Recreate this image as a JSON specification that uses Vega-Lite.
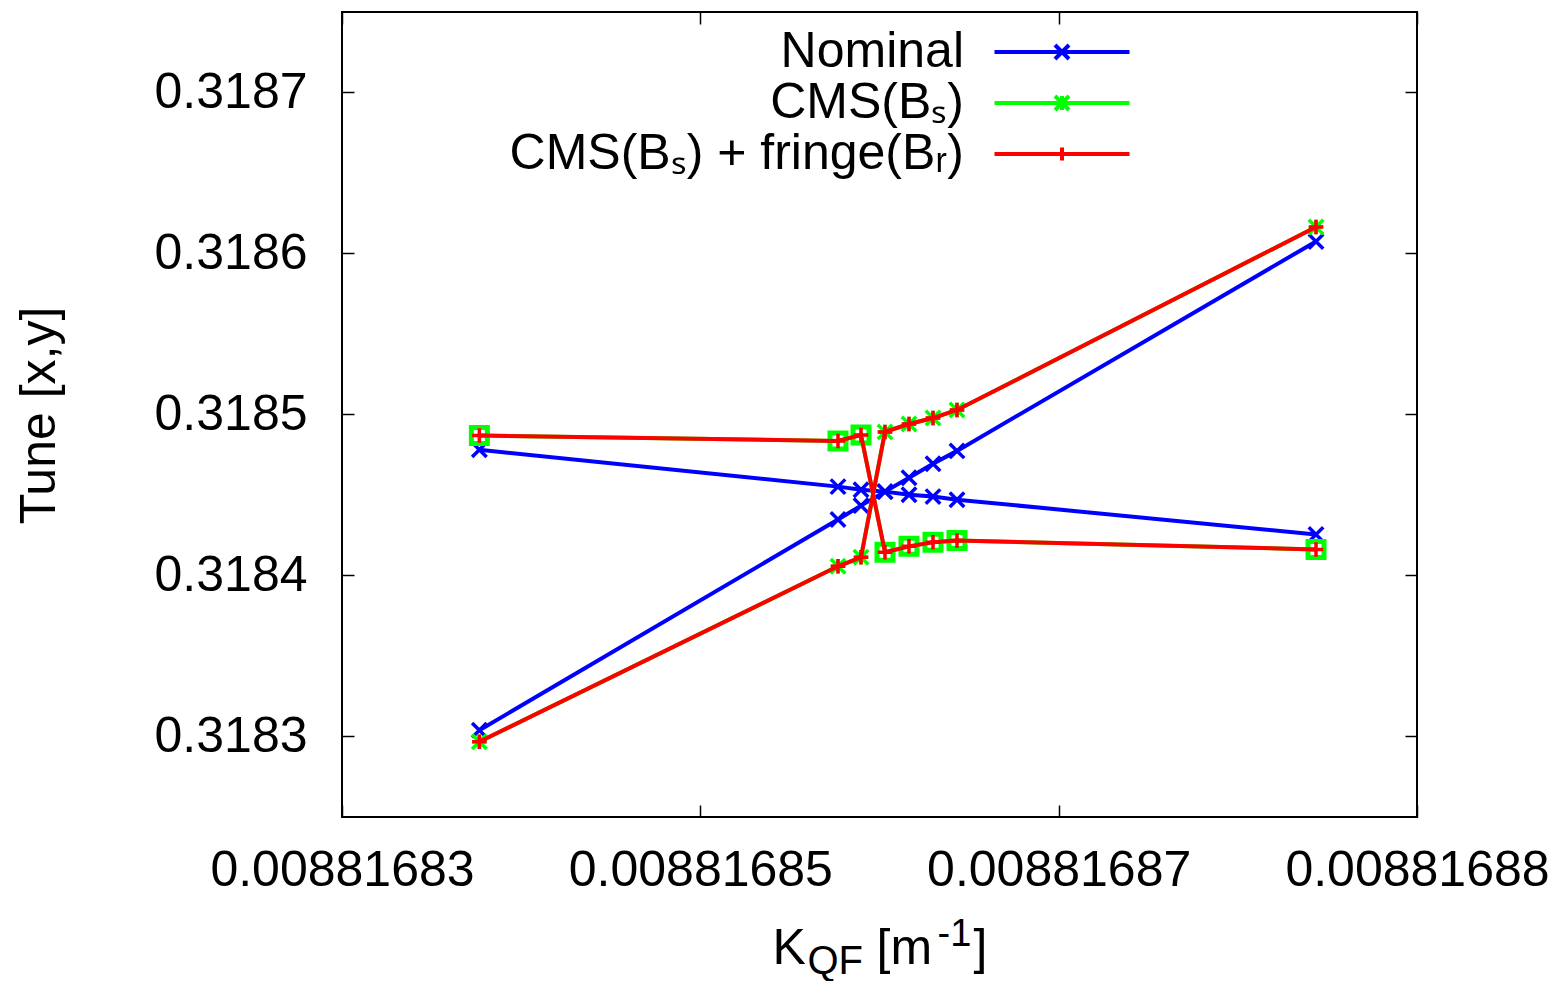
{
  "$schema": "https://vega.github.io/schema/vega-lite/v6.json",
  "width": 1075,
  "height": 805,
  "autosize": "none",
  "padding": {"left": 342, "top": 12, "right": 149, "bottom": 164},
  "background": "white",
  "config": {
    "font": "Liberation Sans",
    "view": {"stroke": "#000000", "strokeWidth": 2},
    "axis": {"labelColor": "#000000", "titleColor": "#000000", "tickColor": "#000000", "labelFont": "Liberation Sans", "titleFont": "Liberation Sans", "titleFontWeight": "normal", "grid": false, "domain": false, "labelLimit": 1000}
  },
  "data": {
    "values": [
      {"series": "Nominal", "branch": "A", "K": 0.0088168369, "tune": 0.3184781},
      {"series": "Nominal", "branch": "A", "K": 0.008816854915, "tune": 0.3184552},
      {"series": "Nominal", "branch": "A", "K": 0.008816856071, "tune": 0.3184533},
      {"series": "Nominal", "branch": "A", "K": 0.008816857276, "tune": 0.3184521},
      {"series": "Nominal", "branch": "A", "K": 0.008816858482, "tune": 0.3184502},
      {"series": "Nominal", "branch": "A", "K": 0.008816859688, "tune": 0.318449},
      {"series": "Nominal", "branch": "A", "K": 0.008816860893, "tune": 0.3184471},
      {"series": "Nominal", "branch": "A", "K": 0.008816878927, "tune": 0.3184255},
      {"series": "Nominal", "branch": "B", "K": 0.0088168369, "tune": 0.3183039},
      {"series": "Nominal", "branch": "B", "K": 0.008816854915, "tune": 0.3184348},
      {"series": "Nominal", "branch": "B", "K": 0.008816856071, "tune": 0.3184434},
      {"series": "Nominal", "branch": "B", "K": 0.008816857276, "tune": 0.3184521},
      {"series": "Nominal", "branch": "B", "K": 0.008816858482, "tune": 0.3184607},
      {"series": "Nominal", "branch": "B", "K": 0.008816859688, "tune": 0.3184694},
      {"series": "Nominal", "branch": "B", "K": 0.008816860893, "tune": 0.3184774},
      {"series": "Nominal", "branch": "B", "K": 0.008816878927, "tune": 0.3186075},
      {"series": "CMS(Bₛ)", "branch": "A", "K": 0.0088168369, "tune": 0.3184869},
      {"series": "CMS(Bₛ)", "branch": "A", "K": 0.008816854915, "tune": 0.3184836},
      {"series": "CMS(Bₛ)", "branch": "A", "K": 0.008816856071, "tune": 0.3184873},
      {"series": "CMS(Bₛ)", "branch": "A", "K": 0.008816857276, "tune": 0.3184144},
      {"series": "CMS(Bₛ)", "branch": "A", "K": 0.008816858482, "tune": 0.3184181},
      {"series": "CMS(Bₛ)", "branch": "A", "K": 0.008816859688, "tune": 0.3184206},
      {"series": "CMS(Bₛ)", "branch": "A", "K": 0.008816860893, "tune": 0.3184218},
      {"series": "CMS(Bₛ)", "branch": "A", "K": 0.008816878927, "tune": 0.3184162},
      {"series": "CMS(Bₛ)", "branch": "B", "K": 0.0088168369, "tune": 0.3182967},
      {"series": "CMS(Bₛ)", "branch": "B", "K": 0.008816854915, "tune": 0.3184057},
      {"series": "CMS(Bₛ)", "branch": "B", "K": 0.008816856071, "tune": 0.3184113},
      {"series": "CMS(Bₛ)", "branch": "B", "K": 0.008816857276, "tune": 0.3184892},
      {"series": "CMS(Bₛ)", "branch": "B", "K": 0.008816858482, "tune": 0.3184941},
      {"series": "CMS(Bₛ)", "branch": "B", "K": 0.008816859688, "tune": 0.3184978},
      {"series": "CMS(Bₛ)", "branch": "B", "K": 0.008816860893, "tune": 0.3185028},
      {"series": "CMS(Bₛ)", "branch": "B", "K": 0.008816878927, "tune": 0.3186165},
      {"series": "CMS(Bₛ) + fringe(Bᵣ)", "branch": "A", "K": 0.0088168369, "tune": 0.3184869},
      {"series": "CMS(Bₛ) + fringe(Bᵣ)", "branch": "A", "K": 0.008816854915, "tune": 0.3184836},
      {"series": "CMS(Bₛ) + fringe(Bᵣ)", "branch": "A", "K": 0.008816856071, "tune": 0.3184873},
      {"series": "CMS(Bₛ) + fringe(Bᵣ)", "branch": "A", "K": 0.008816857276, "tune": 0.3184144},
      {"series": "CMS(Bₛ) + fringe(Bᵣ)", "branch": "A", "K": 0.008816858482, "tune": 0.3184181},
      {"series": "CMS(Bₛ) + fringe(Bᵣ)", "branch": "A", "K": 0.008816859688, "tune": 0.3184206},
      {"series": "CMS(Bₛ) + fringe(Bᵣ)", "branch": "A", "K": 0.008816860893, "tune": 0.3184218},
      {"series": "CMS(Bₛ) + fringe(Bᵣ)", "branch": "A", "K": 0.008816878927, "tune": 0.3184162},
      {"series": "CMS(Bₛ) + fringe(Bᵣ)", "branch": "B", "K": 0.0088168369, "tune": 0.3182967},
      {"series": "CMS(Bₛ) + fringe(Bᵣ)", "branch": "B", "K": 0.008816854915, "tune": 0.3184057},
      {"series": "CMS(Bₛ) + fringe(Bᵣ)", "branch": "B", "K": 0.008816856071, "tune": 0.3184113},
      {"series": "CMS(Bₛ) + fringe(Bᵣ)", "branch": "B", "K": 0.008816857276, "tune": 0.3184892},
      {"series": "CMS(Bₛ) + fringe(Bᵣ)", "branch": "B", "K": 0.008816858482, "tune": 0.3184941},
      {"series": "CMS(Bₛ) + fringe(Bᵣ)", "branch": "B", "K": 0.008816859688, "tune": 0.3184978},
      {"series": "CMS(Bₛ) + fringe(Bᵣ)", "branch": "B", "K": 0.008816860893, "tune": 0.3185028},
      {"series": "CMS(Bₛ) + fringe(Bᵣ)", "branch": "B", "K": 0.008816878927, "tune": 0.3186165}
    ]
  },
  "layer": [
    {
      "transform": [{"filter": "datum.series === 'Nominal'"}],
      "mark": {"type": "line", "strokeWidth": 4},
      "encoding": {
        "x": {"field": "K", "type": "quantitative", "scale": {"domain": [0.00881683, 0.008816884], "zero": false, "nice": false},
          "axis": {"orient": "bottom", "values": [0.00881683, 0.008816848, 0.008816866, 0.008816884], "format": ".6", "labelFontSize": 50, "labelBaseline": "alphabetic", "labelPadding": 80, "labelFlush": false, "labelOverlap": false, "labelLimit": 1000, "tickSize": -12, "tickWidth": 1.5,
            "title": "K", "titleFontSize": 50, "titleX": 430, "titleY": 146, "titleAlign": "left", "titleBaseline": "alphabetic", "titleAngle": 0}},
        "y": {"field": "tune", "type": "quantitative", "scale": {"domain": [0.31825, 0.31875], "zero": false, "nice": false},
          "axis": {"orient": "left", "values": [0.3183, 0.3184, 0.3185, 0.3186, 0.3187], "format": ".4f", "labelFontSize": 50, "labelPadding": 47, "labelBaseline": "middle", "labelFlush": false, "labelOverlap": false, "tickSize": -12, "tickWidth": 1.5,
            "title": "Tune [x,y]", "titleFontSize": 50, "titleX": -303, "titleY": 403, "titleAngle": 270, "titleAlign": "center", "titleBaseline": "middle"}},
        "detail": {"field": "branch", "type": "nominal"},
        "color": {"field": "series", "type": "nominal",
          "scale": {"domain": ["Nominal", "CMS(Bₛ)", "CMS(Bₛ) + fringe(Bᵣ)"], "range": ["#0000ff", "#00ff00", "#ff0000"]},
          "legend": {"orient": "none", "legendX": 695, "legendY": 15, "title": null, "padding": 0, "symbolType": "M-1,0H1", "symbolSize": 1600, "symbolStrokeWidth": 4, "symbolOffset": 0, "rowPadding": 1, "labelOffset": -123, "labelAlign": "right", "labelBaseline": "middle", "labelFontSize": 50, "labelFont": "Liberation Sans", "labelColor": "#000000", "labelLimit": 2000,
            "encode": {"symbols": {"update": {"shape": {"signal": "datum.value === 'Nominal' ? 'M-3.375,0H3.375M-0.35,-0.35L0.35,0.35M-0.35,0.35L0.35,-0.35' : (datum.value === 'CMS(Bₛ)' ? 'M-3.375,0H3.375M-0.35,-0.35L0.35,0.35M-0.35,0.35L0.35,-0.35M0,-0.35V0.35' : 'M-3.375,0H3.375M0,-0.33V0.33')"}, "fill": {"value": "transparent"}, "stroke": {"signal": "scale('color', datum.value)"}, "strokeWidth": {"value": 4}, "opacity": {"value": 1}}}}}}
      }
    },
    {
      "transform": [{"filter": "datum.series === 'Nominal'"}],
      "mark": {"type": "point", "shape": "M-1,-1L1,1M-1,1L1,-1", "filled": false, "strokeWidth": 3.5, "size": 210, "color": "#0000ff", "opacity": 1},
      "encoding": {
        "x": {"field": "K", "type": "quantitative", "scale": {"domain": [0.00881683, 0.008816884], "zero": false, "nice": false},
          "axis": {"orient": "top", "values": [0.00881683, 0.008816848, 0.008816866, 0.008816884], "labels": false, "tickSize": -12, "tickWidth": 1.5, "title": null}},
        "y": {"field": "tune", "type": "quantitative", "scale": {"domain": [0.31825, 0.31875], "zero": false, "nice": false},
          "axis": {"orient": "right", "values": [0.3183, 0.3184, 0.3185, 0.3186, 0.3187], "labels": false, "tickSize": -12, "tickWidth": 1.5, "title": null}}
      }
    },
    {
      "transform": [{"filter": "datum.series === 'CMS(Bₛ)'"}],
      "mark": {"type": "line", "strokeWidth": 4, "color": "#00ff00"},
      "encoding": {
        "x": {"field": "K", "type": "quantitative", "scale": {"domain": [0.00881683, 0.008816884], "zero": false, "nice": false},
          "axis": {"orient": "bottom", "labels": false, "ticks": false, "title": "QF", "titleFontSize": 40, "titleX": 465, "titleY": 156, "titleAlign": "left", "titleBaseline": "alphabetic", "titleAngle": 0}},
        "y": {"field": "tune", "type": "quantitative", "scale": {"domain": [0.31825, 0.31875], "zero": false, "nice": false}, "axis": null},
        "detail": {"field": "branch", "type": "nominal"}
      }
    },
    {
      "transform": [{"filter": "datum.series === 'CMS(Bₛ)'"}],
      "mark": {"type": "point", "filled": false, "color": "#00ff00", "opacity": 1},
      "encoding": {
        "x": {"field": "K", "type": "quantitative", "scale": {"domain": [0.00881683, 0.008816884], "zero": false, "nice": false},
          "axis": {"orient": "bottom", "labels": false, "ticks": false, "title": "[m", "titleFontSize": 50, "titleX": 534, "titleY": 146, "titleAlign": "left", "titleBaseline": "alphabetic", "titleAngle": 0}},
        "y": {"field": "tune", "type": "quantitative", "scale": {"domain": [0.31825, 0.31875], "zero": false, "nice": false}, "axis": null},
        "shape": {"field": "branch", "type": "nominal", "scale": {"domain": ["A", "B"], "range": ["square", "M-1,-1L1,1M-1,1L1,-1M-1,0H1M0,-1V1"]}, "legend": null},
        "strokeWidth": {"field": "branch", "type": "nominal", "scale": {"domain": ["A", "B"], "range": [5, 3.5]}, "legend": null},
        "size": {"field": "branch", "type": "nominal", "scale": {"domain": ["A", "B"], "range": [256, 210]}, "legend": null}
      }
    },
    {
      "transform": [{"filter": "datum.series === 'CMS(Bₛ) + fringe(Bᵣ)'"}],
      "mark": {"type": "line", "strokeWidth": 4, "color": "#ff0000"},
      "encoding": {
        "x": {"field": "K", "type": "quantitative", "scale": {"domain": [0.00881683, 0.008816884], "zero": false, "nice": false},
          "axis": {"orient": "bottom", "labels": false, "ticks": false, "title": "-1", "titleFontSize": 38, "titleX": 595, "titleY": 128, "titleAlign": "left", "titleBaseline": "alphabetic", "titleAngle": 0}},
        "y": {"field": "tune", "type": "quantitative", "scale": {"domain": [0.31825, 0.31875], "zero": false, "nice": false}, "axis": null},
        "detail": {"field": "branch", "type": "nominal"}
      }
    },
    {
      "transform": [{"filter": "datum.series === 'CMS(Bₛ) + fringe(Bᵣ)'"}],
      "mark": {"type": "point", "shape": "M-1,0H1M0,-1V1", "filled": false, "strokeWidth": 3.5, "size": 210, "color": "#ff0000", "opacity": 1},
      "encoding": {
        "x": {"field": "K", "type": "quantitative", "scale": {"domain": [0.00881683, 0.008816884], "zero": false, "nice": false},
          "axis": {"orient": "bottom", "labels": false, "ticks": false, "title": "]", "titleFontSize": 50, "titleX": 631, "titleY": 146, "titleAlign": "left", "titleBaseline": "alphabetic", "titleAngle": 0}},
        "y": {"field": "tune", "type": "quantitative", "scale": {"domain": [0.31825, 0.31875], "zero": false, "nice": false}, "axis": null}
      }
    }
  ],
  "resolve": {"axis": {"x": "independent", "y": "independent"}}
}
